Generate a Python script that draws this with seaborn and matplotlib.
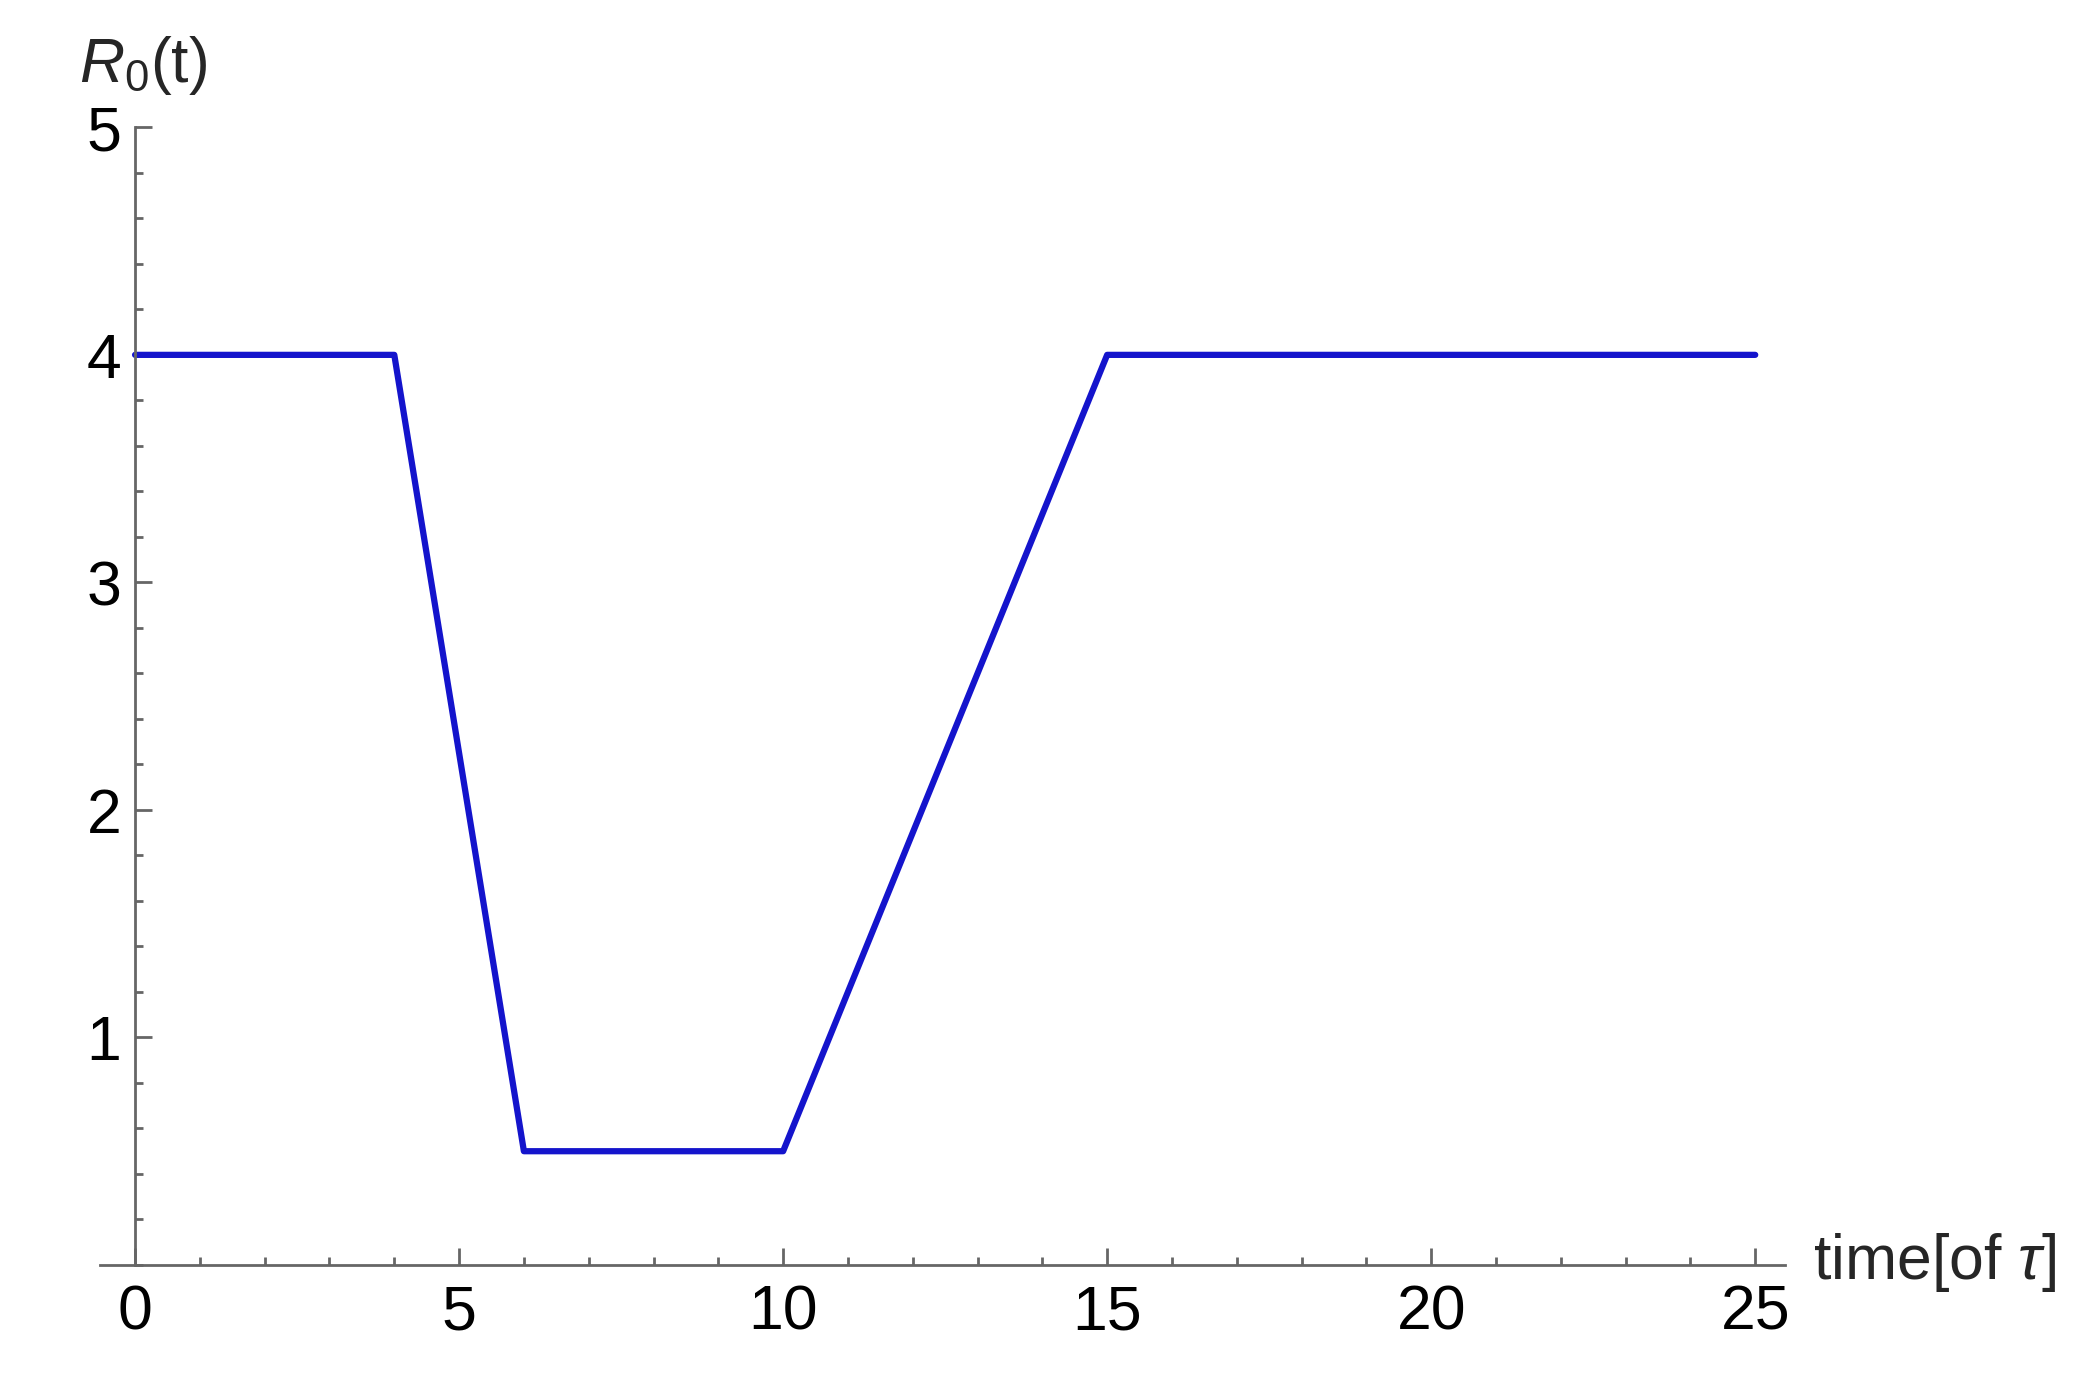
import matplotlib
matplotlib.use("Agg")
import matplotlib.pyplot as plt
import seaborn as sns
import pandas as pd
from matplotlib.ticker import MultipleLocator

# piecewise R0(t) values
time_pts = [0, 4, 6, 10, 15, 25]
r0_vals = [4, 4, 0.5, 0.5, 4, 4]
x_major = [0, 5, 10, 15, 20, 25]
y_major = [1, 2, 3, 4, 5]

df = pd.DataFrame({"t": time_pts, "R0": r0_vals})

sns.set_theme(style="white")
plt.rcParams["font.family"] = ["Liberation Sans", "DejaVu Sans"]
plt.rcParams["mathtext.fontset"] = "custom"
plt.rcParams["mathtext.rm"] = "Liberation Sans"
plt.rcParams["mathtext.it"] = "Liberation Sans:italic"

fig = plt.figure(figsize=(20.89, 13.84), dpi=100)
ax = fig.add_axes([0.0479, 0.086, 0.8066, 0.822])

sns.lineplot(data=df, x="t", y="R0", ax=ax, color="#1414cc", linewidth=4.5,
             clip_on=False)

ax.set_xlim(-0.54, 25.46)
ax.set_ylim(0, 5)

# Mathematica-like axes crossing at origin
for s in ["top", "right"]:
    ax.spines[s].set_visible(False)
ax.spines["left"].set_position(("data", 0))
ax.spines["left"].set_bounds(0, 5)
for s in ["left", "bottom"]:
    ax.spines[s].set_color("#666666")
    ax.spines[s].set_linewidth(2)

ax.set_xticks(x_major)
ax.set_yticks(y_major)
ax.xaxis.set_minor_locator(MultipleLocator(1))
ax.yaxis.set_minor_locator(MultipleLocator(0.2))
ax.tick_params(which="both", direction="in", color="#666666", width=2,
               labelsize=45, labelcolor="black")
ax.tick_params(which="major", length=12)
ax.tick_params(which="minor", length=6)
ax.tick_params(axis="x", which="both", bottom=True, pad=13)
ax.tick_params(axis="y", which="both", left=True, pad=10)

ax.set_xlabel("")
ax.set_ylabel("")
fig.text(0.038, 0.953, r"$R_0$(t)", fontsize=45, va="center", ha="left")
fig.text(0.868, 0.088, r"time[of $\tau$]", fontsize=45, va="center", ha="left")

fig.savefig("out.png", dpi=100, facecolor="white")
